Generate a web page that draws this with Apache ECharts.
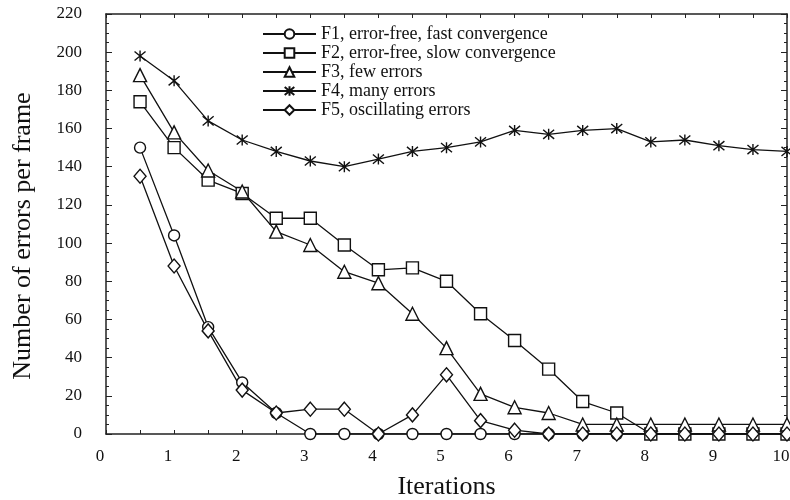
<!DOCTYPE html>
<html>
<head>
<meta charset="utf-8">
<script src="https://cdn.jsdelivr.net/npm/echarts@6/dist/echarts.min.js"></script>
<style>
  html, body { margin: 0; padding: 0; background: #fff; }
  #chart { width: 790px; height: 500px; }
</style>
</head>
<body>
<div id="chart"></div>
<script>
// Iteration index (x) and errors per frame for each test sequence
var iterations = [0.5, 1, 1.5, 2, 2.5, 3, 3.5, 4, 4.5, 5, 5.5, 6, 6.5, 7, 7.5, 8, 8.5, 9, 9.5, 10];
var f1 = [150, 104, 56, 27, 11, 0, 0, 0, 0, 0, 0, 0, 0, 0, 0, 0, 0, 0, 0, 0];
var f2 = [174, 150, 133, 126, 113, 113, 99, 86, 87, 80, 63, 49, 34, 17, 11, 0, 0, 0, 0, 0];
var f3 = [188, 158, 138, 127, 106, 99, 85, 79, 63, 45, 21, 14, 11, 5, 5, 5, 5, 5, 5, 5];
var f4 = [198, 185, 164, 154, 148, 143, 140, 144, 148, 150, 153, 159, 157, 159, 160, 153, 154, 151, 149, 148];
var f5 = [135, 88, 54, 23, 11, 13, 13, 0, 10, 31, 7, 2, 0, 0, 0, 0, 0, 0, 0, 0];

var seriesNames = [
  'F1, error-free, fast convergence',
  'F2, error-free, slow convergence',
  'F3, few errors',
  'F4, many errors',
  'F5, oscillating errors'
];

var FONT = '"Liberation Serif", "DejaVu Serif", serif';
var asterisk = 'path://M0,0L10,10M10,0L0,10M5,-1L5,11';

function pairs(ys) {
  return iterations.map(function (x, i) { return [x, ys[i]]; });
}

function lineSeries(name, ys, symbol, size) {
  return {
    name: name,
    type: 'line',
    data: pairs(ys),
    symbol: symbol,
    symbolSize: size,
    showSymbol: true,
    lineStyle: { color: '#111', width: 1.3 },
    itemStyle: { color: '#fff', borderColor: '#111', borderWidth: 1.4 },
    emphasis: { disabled: true },
    animation: false
  };
}

var chart = echarts.init(document.getElementById('chart'), null, { renderer: 'canvas' });

var frameAxis = {
  axisLine: { show: true, onZero: false, lineStyle: { color: '#222', width: 1.5 } },
  splitLine: { show: false }
};

chart.setOption({
  backgroundColor: '#fff',
  animation: false,
  grid: { left: 106, right: 3, top: 14, bottom: 66, outerBoundsMode: 'none', containLabel: false },
  legend: {
    orient: 'vertical',
    left: 262,
    top: 25,
    padding: 0,
    itemWidth: 53,
    itemHeight: 12,
    itemGap: 1,
    selectedMode: false,
    textStyle: { fontFamily: FONT, fontSize: 18, lineHeight: 18, color: '#111' },
    data: seriesNames
  },
  xAxis: [
    Object.assign({}, frameAxis, {
      type: 'value', min: 0, max: 10, interval: 1,
      name: 'Iterations', nameLocation: 'middle', nameGap: 40,
      nameTextStyle: { fontFamily: FONT, fontSize: 26, color: '#111' },
      axisTick: { inside: true, length: 4, lineStyle: { color: '#222' } },
      minorTick: { show: true, splitNumber: 2, length: 4, lineStyle: { color: '#222' } },
      axisLabel: { fontFamily: FONT, fontSize: 17, color: '#111', margin: 14, padding: [0, 12, 0, 0] }
    }),
    Object.assign({}, frameAxis, {
      type: 'value', min: 0, max: 10, interval: 1, position: 'top',
      axisTick: { inside: true, length: 4, lineStyle: { color: '#222' } },
      minorTick: { show: true, splitNumber: 2, length: 4, lineStyle: { color: '#222' } },
      axisLabel: { show: false }
    })
  ],
  yAxis: [
    Object.assign({}, frameAxis, {
      type: 'value', min: 0, max: 220, interval: 20,
      name: 'Number of errors per frame', nameLocation: 'middle', nameGap: 70,
      nameTextStyle: { fontFamily: FONT, fontSize: 26, color: '#111', padding: [0, 24, 0, 0] },
      axisTick: { inside: true, length: 6, lineStyle: { color: '#222' } },
      minorTick: { show: true, splitNumber: 4, length: 3, lineStyle: { color: '#222' } },
      axisLabel: { fontFamily: FONT, fontSize: 17, color: '#111', margin: 24, padding: [6, 0, 0, 0] }
    }),
    Object.assign({}, frameAxis, {
      type: 'value', min: 0, max: 220, interval: 20, position: 'right',
      axisTick: { inside: true, length: 6, lineStyle: { color: '#222' } },
      minorTick: { show: true, splitNumber: 4, length: 3, lineStyle: { color: '#222' } },
      axisLabel: { show: false }
    })
  ],
  series: [
    lineSeries(seriesNames[0], f1, 'circle', 11),
    lineSeries(seriesNames[1], f2, 'rect', 12),
    lineSeries(seriesNames[2], f3, 'triangle', 13),
    lineSeries(seriesNames[3], f4, asterisk, 11),
    lineSeries(seriesNames[4], f5, 'diamond', [12, 14])
  ]
});
</script>
</body>
</html>
